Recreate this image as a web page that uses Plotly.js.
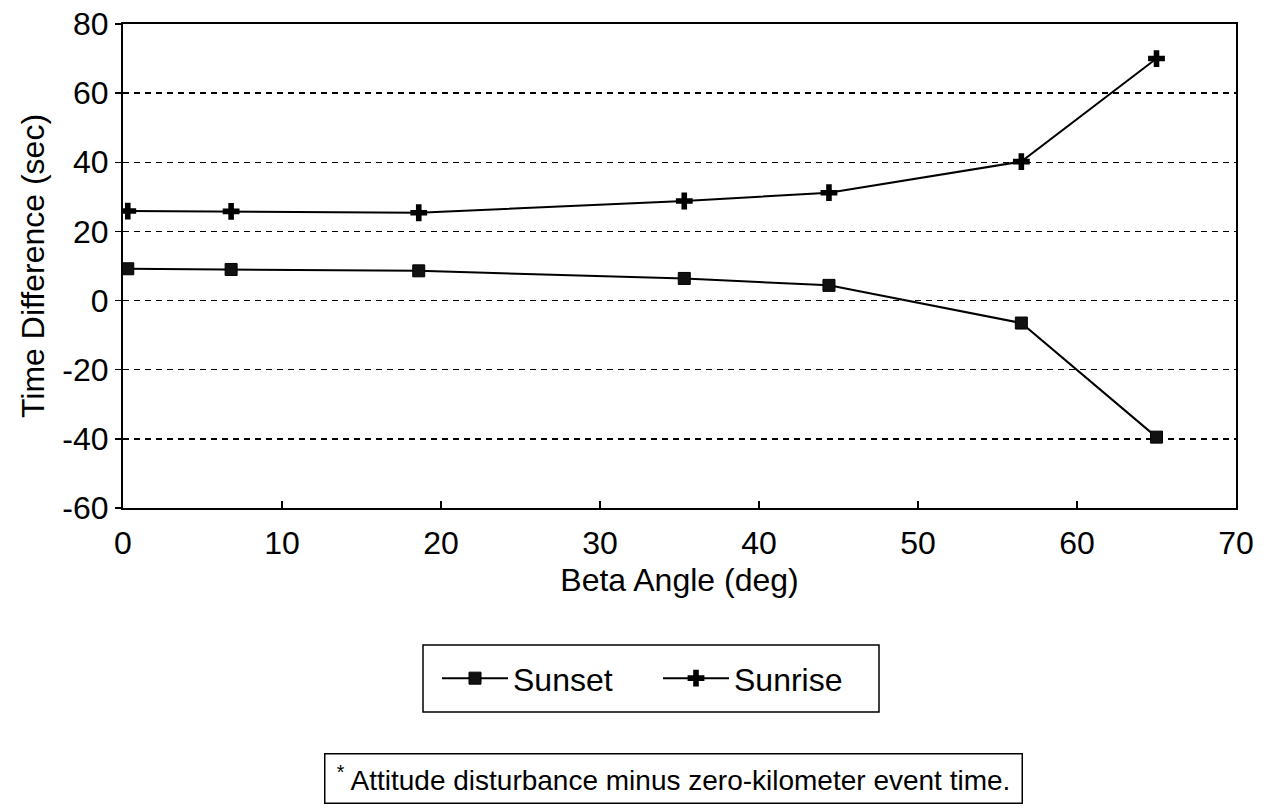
<!DOCTYPE html>
<html>
<head>
<meta charset="utf-8">
<script src="https://cdn.plot.ly/plotly-3.0.1.min.js"></script>
<style>
  html, body { margin: 0; padding: 0; background: #ffffff; }
  #chart { width: 1274px; height: 811px; }
</style>
</head>
<body>
<div id="chart"></div>
<script>
// Beta angle (deg) of each measurement
const betaAngle = [0.3, 6.8, 18.6, 35.3, 44.4, 56.5, 65.0];
// Time difference (sec), attitude disturbance minus zero-kilometer event time
const sunsetValues = [9.2, 9.0, 8.6, 6.4, 4.4, -6.5, -39.5];
const sunriseValues = [25.9, 25.8, 25.4, 28.8, 31.2, 40.2, 70.0];
const seriesNames = ["Sunset", "Sunrise"];
const xTickValues = [0, 10, 20, 30, 40, 50, 60, 70];
const yTickValues = [-60, -40, -20, 0, 20, 40, 60, 80];
const xAxisTitle = "Beta Angle (deg)";
const yAxisTitle = "Time Difference (sec)";
const footnoteText = "<sup>*</sup> Attitude disturbance minus zero-kilometer event time.";

const FONT = "Liberation Sans, Arial, Helvetica, sans-serif";

const traces = [
  {
    x: betaAngle, y: sunsetValues, name: seriesNames[0],
    type: "scatter", mode: "lines+markers",
    line: { color: "#000000", width: 2 },
    marker: { symbol: "square", size: 12, color: "#111111", line: { color: "#000000", width: 1 } }
  },
  {
    x: betaAngle, y: sunriseValues, name: seriesNames[1],
    type: "scatter", mode: "lines+markers",
    line: { color: "#000000", width: 2 },
    marker: { symbol: "cross", size: 14, color: "#000000", line: { width: 0 } }
  }
];

const layout = {
  width: 1274, height: 811,
  paper_bgcolor: "#ffffff", plot_bgcolor: "#ffffff",
  margin: { l: 123, r: 38, t: 24, b: 303 },
  font: { family: FONT, size: 32, color: "#000000" },
  showlegend: true,
  legend: {
    orientation: "h",
    x: (437 - 123) / 1113, xanchor: "left",
    y: -0.352, yanchor: "middle",
    borderwidth: 0,
    bgcolor: "rgba(0,0,0,0)",
    font: { family: FONT, size: 32, color: "#000000" },
    itemwidth: 66,
    entrywidth: 140, entrywidthmode: "pixels",
    traceorder: "normal"
  },
  shapes: [
    {
      type: "rect", xref: "paper", yref: "paper",
      x0: (423 - 123) / 1113, x1: (879 - 123) / 1113,
      y0: (508 - 645) / 484, y1: (508 - 712) / 484,
      line: { color: "#000000", width: 1.5 }, fillcolor: "rgba(0,0,0,0)"
    }
  ],
  xaxis: {
    range: [0, 70],
    tickvals: xTickValues,
    ticktext: xTickValues.map(String),
    ticks: "inside", ticklen: 7, tickcolor: "#000000", tickwidth: 1.5,
    ticklabelstandoff: 6,
    showgrid: false, zeroline: false,
    showline: true, linecolor: "#000000", linewidth: 2, mirror: true,
    tickfont: { family: FONT, size: 32, color: "#000000" },
    title: { text: xAxisTitle, font: { family: FONT, size: 32, color: "#000000" }, standoff: 8 },
    automargin: false
  },
  yaxis: {
    range: [-60, 80],
    tickvals: yTickValues,
    ticktext: yTickValues.map(String),
    ticks: "outside", ticklen: 6, tickcolor: "#000000", tickwidth: 1.5,
    ticklabelstandoff: 0,
    showgrid: true, gridcolor: "#000000", gridwidth: 1.5, griddash: "6px,5px",
    zeroline: false,
    showline: true, linecolor: "#000000", linewidth: 2, mirror: true,
    tickfont: { family: FONT, size: 32, color: "#000000" },
    title: { text: yAxisTitle, font: { family: FONT, size: 32, color: "#000000" }, standoff: 8 },
    automargin: false
  },
  annotations: [
    {
      xref: "paper", yref: "paper",
      x: 0.4946, y: -0.559, xanchor: "center", yanchor: "middle",
      text: footnoteText, showarrow: false,
      font: { family: FONT, size: 28, color: "#000000" },
      bordercolor: "#000000", borderwidth: 1.5, borderpad: 5,
      width: 686, height: 38, align: "center"
    }
  ]
};

Plotly.newPlot("chart", traces, layout, { staticPlot: true, displayModeBar: false });
</script>
</body>
</html>
